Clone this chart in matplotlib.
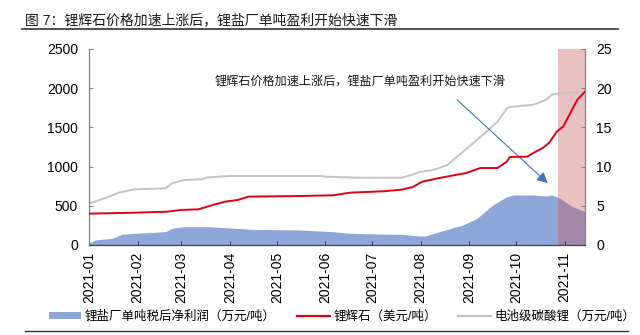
import numpy as np
import pandas as pd
import matplotlib
matplotlib.use('Agg')
import matplotlib.pyplot as plt
import matplotlib.dates as mdates
from matplotlib.lines import Line2D
from matplotlib.patches import Patch

plt.rcParams['font.family'] = ['Liberation Sans', 'Noto Sans CJK SC']
plt.rcParams['axes.unicode_minus'] = False

start = pd.Timestamp('2021-01-01')

# 锂辉石 (美元/吨), left axis
spod_day = [0, 29, 50, 59, 70, 79, 87, 95, 102, 135, 156, 167, 188, 200, 207, 213,
            224, 241, 250, 261, 267, 269, 280, 284, 290, 294, 299, 303, 307, 312, 317]
spod_val = [400, 412, 425, 447, 455, 510, 553, 574, 617, 625, 634, 668, 685, 706, 740, 808,
            855, 918, 982, 982, 1063, 1123, 1127, 1174, 1238, 1302, 1446, 1510, 1659, 1850, 1956]

# 电池级碳酸锂 (万元/吨), right axis
li2co3_day = [0, 10, 19, 29, 49, 53, 61, 72, 76, 89, 148, 152, 171, 200, 207, 211,
              220, 229, 239, 248, 254, 261, 267, 269, 284, 292, 296, 305, 317]
li2co3_val = [5.3, 5.95, 6.67, 7.10, 7.23, 7.87, 8.29, 8.38, 8.63, 8.80, 8.80, 8.71, 8.59, 8.59, 9.0, 9.3,
              9.57, 10.2, 11.9, 13.4, 14.45, 15.7, 17.4, 17.6, 17.9, 18.5, 19.2, 19.4, 19.55]

# 锂盐厂单吨税后净利润 (万元/吨), right axis
profit_day = [0, 4, 15, 21, 29, 49, 53, 61, 76, 87, 104, 135, 156, 167, 186, 199, 211, 215,
              224, 239, 248, 258, 267, 271, 284, 292, 296, 301, 309, 317]
profit_val = [0.25, 0.64, 0.85, 1.36, 1.49, 1.70, 2.13, 2.34, 2.34, 2.21, 2.0, 1.91, 1.70, 1.49, 1.40, 1.36, 1.15, 1.15,
              1.70, 2.55, 3.4, 5.1, 6.16, 6.38, 6.38, 6.25, 6.38, 5.95, 4.9, 4.25]

shade_start = start + pd.Timedelta(days=299.5)
end = start + pd.Timedelta(days=317)

spod_x = start + pd.to_timedelta(spod_day, unit='D')
li_x = start + pd.to_timedelta(li2co3_day, unit='D')
pr_x = start + pd.to_timedelta(profit_day, unit='D')

blue = '#8EA6D8'
red = '#E3000F'
grey = '#C4C4C4'

fig = plt.figure(figsize=(6.4, 3.35), dpi=100)
ax = fig.add_axes([89/640, 1-245/335, 496/640, 196/335])
ax2 = ax.twinx()
ax.set_zorder(ax2.get_zorder() + 1)
ax.patch.set_visible(False)

ax2.fill_between(pr_x, 0, profit_val, color=blue, lw=0, zorder=1)
ax2.axvspan(shade_start, end, color='#C55C61', alpha=0.38, lw=0, zorder=2)
ax2.plot(li_x, li2co3_val, color=grey, lw=1.4, zorder=3)
ax.plot(spod_x, spod_val, color=red, lw=1.4, zorder=4)

ax.set_xlim(start, end)
ax.set_ylim(0, 2500)
ax2.set_ylim(0, 25)
ax.set_yticks(np.arange(0, 2501, 500))
ax2.set_yticks(np.arange(0, 26, 5))
ax.xaxis.set_major_locator(mdates.MonthLocator())
ax.xaxis.set_major_formatter(mdates.DateFormatter('%Y-%m'))
ax.tick_params(axis='x', direction='in', length=3, width=0.8, color='#404040',
               labelsize=10, rotation=90, pad=5)
ax.tick_params(axis='y', direction='in', length=3, color='#808080', labelsize=10, pad=8)
ax2.tick_params(axis='y', direction='in', length=3, color='#808080', labelsize=10, pad=8)

for a in (ax, ax2):
    a.spines['top'].set_visible(False)
    a.spines['left'].set_color('#808080')
    a.spines['right'].set_color('#808080')
    a.spines['bottom'].set_color('#404040')

ax.text(0.254, 0.832, '锂辉石价格加速上涨后，锂盐厂单吨盈利开始快速下滑',
        transform=ax.transAxes, fontsize=8.7, va='center', ha='left', color='#1a1a1a')
ax.annotate('', xy=(0.929, 0.306), xytext=(0.738, 0.75),
            xycoords='axes fraction', textcoords='axes fraction',
            arrowprops=dict(arrowstyle='-|>', color='#4472C4', lw=0.8, mutation_scale=16))

fig.text(25/640, 1-20/335, '图 7：锂辉石价格加速上涨后，锂盐厂单吨盈利开始快速下滑',
         fontsize=10, va='center', ha='left', color='#1a1a1a')
fig.add_artist(Line2D([22/640, 618/640], [1-28.5/335, 1-28.5/335], color='#333333', lw=1.2))
fig.add_artist(Line2D([25/640, 628/640], [1-331/335, 1-331/335], color='#333333', lw=1.0))

handles = [Patch(facecolor=blue, edgecolor='none'),
           Line2D([], [], color=red, lw=1.6),
           Line2D([], [], color=grey, lw=1.6)]
labels = ['锂盐厂单吨税后净利润（万元/吨）', '锂辉石（美元/吨）', '电池级碳酸锂（万元/吨）']
fig.legend(handles, labels, loc='center left', bbox_to_anchor=(46/640, 1-317/335), ncol=3,
           frameon=False, fontsize=9, handlelength=2.6, handleheight=0.5, handletextpad=0.3,
           columnspacing=1.7, borderaxespad=0, borderpad=0.2)

fig.savefig('out.png', dpi=100)
